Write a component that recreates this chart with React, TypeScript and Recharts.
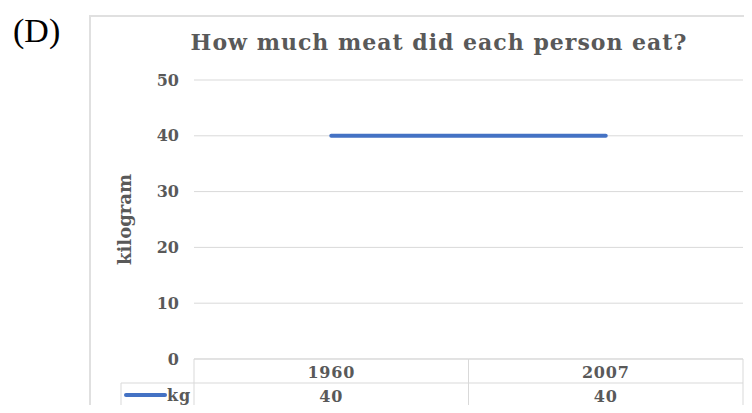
import { LineChart, Line, XAxis, YAxis, CartesianGrid, Label } from "recharts";

// chart data
const years = ["1960", "2007"];
const kg = [40, 40];
const yTicks = [0, 10, 20, 30, 40, 50];
const seriesName = "kg";

const data = years.map((year, i) => ({ year, kg: kg[i] }));

const W = 752;
const H = 413;
const PLOT_LEFT = 194;
const PLOT_RIGHT = 743;
const HALF = (PLOT_RIGHT - PLOT_LEFT) / years.length / 2;
const ROW = 24;
const LEGEND_W = 73;
const GRID = "#d9d9d9";
const TEXT = "#595959";
const BLUE = "#4472c4";
const SERIF = "'DejaVu Serif', serif";

// x axis tick drawn as a data-table column (year row + value row)
function TableTick(props: any) {
  const { x, y, index } = props;
  const top = y;
  const left = x - HALF;
  const right = x + HALF;
  const txt = {
    fill: TEXT,
    fontFamily: SERIF,
    fontWeight: 700,
    fontSize: 16,
    letterSpacing: 0.8,
  };
  return (
    <g>
      <line x1={left} x2={right} y1={top} y2={top} stroke={GRID} />
      <line x1={left} x2={right} y1={top + ROW} y2={top + ROW} stroke={GRID} />
      <line x1={left} x2={right} y1={top + 2 * ROW} y2={top + 2 * ROW} stroke={GRID} />
      <line x1={right} x2={right} y1={top} y2={top + 2 * ROW} stroke={GRID} />
      {index === 0 && (
        <g>
          <line x1={left} x2={left} y1={top} y2={top + 2 * ROW} stroke={GRID} />
          <line x1={left - LEGEND_W} x2={left} y1={top + ROW} y2={top + ROW} stroke={GRID} />
          <line x1={left - LEGEND_W} x2={left} y1={top + 2 * ROW} y2={top + 2 * ROW} stroke={GRID} />
          <line x1={left - LEGEND_W} x2={left - LEGEND_W} y1={top + ROW} y2={top + 2 * ROW} stroke={GRID} />
          <line
            x1={left - LEGEND_W + 5}
            x2={left - LEGEND_W + 44}
            y1={top + 1.5 * ROW}
            y2={top + 1.5 * ROW}
            stroke={BLUE}
            strokeWidth={4}
            strokeLinecap="round"
          />
          <text x={left - LEGEND_W + 46} y={top + 1.5 * ROW} dominantBaseline="central" {...txt}>
            {seriesName}
          </text>
        </g>
      )}
      <text x={x} y={top + ROW / 2 + 1} textAnchor="middle" dominantBaseline="central" {...txt}>
        {years[index]}
      </text>
      <text x={x} y={top + 1.5 * ROW + 1} textAnchor="middle" dominantBaseline="central" {...txt}>
        {kg[index]}
      </text>
    </g>
  );
}

function YLabel(props: any) {
  const { viewBox } = props;
  const cx = viewBox.x;
  const cy = viewBox.y + viewBox.height / 2;
  return (
    <text
      x={cx}
      y={cy}
      transform={`rotate(-90, ${cx}, ${cy})`}
      textAnchor="middle"
      dominantBaseline="central"
      fill={TEXT}
      fontFamily={SERIF}
      fontWeight={700}
      fontSize={18}
    >
      kilogram
    </text>
  );
}

export default function App() {
  return (
    <div
      style={{
        position: "relative",
        width: W,
        height: H,
        margin: -8,
        overflow: "hidden",
        background: "#fff",
      }}
    >
      <div
        style={{
          position: "absolute",
          left: 89,
          top: 15,
          width: 720,
          height: 460,
          border: "2px solid #e0e0e0",
        }}
      />
      <svg width={W} height={H} style={{ position: "absolute", left: 0, top: 0 }}>
        <text x={13} y={42} fontFamily="'Liberation Serif', serif" fontSize={34} fill="#000">
          (D)
        </text>
        <text
          x={439}
          y={50}
          textAnchor="middle"
          fontFamily={SERIF}
          fontWeight={700}
          fontSize={22}
          letterSpacing={1}
          fill={TEXT}
        >
          How much meat did each person eat?
        </text>
      </svg>
      <div style={{ position: "absolute", left: 0, top: 0 }}>
        <LineChart
          width={W}
          height={H}
          data={data}
          margin={{ top: 80, right: W - PLOT_RIGHT, bottom: 0, left: 124 }}
        >
          <CartesianGrid vertical={false} stroke={GRID} />
          <XAxis
            dataKey="year"
            padding={{ left: HALF, right: HALF }}
            axisLine={false}
            tickLine={false}
            tickSize={0}
            tickMargin={0}
            height={54}
            interval={0}
            tick={<TableTick />}
          />
          <YAxis
            width={PLOT_LEFT - 124}
            domain={[0, 50]}
            ticks={yTicks}
            axisLine={false}
            tickLine={false}
            tickSize={0}
            tickMargin={15}
            tick={{ fill: TEXT, fontFamily: SERIF, fontWeight: 700, fontSize: 16 }}
          >
            <Label content={<YLabel />} />
          </YAxis>
          <Line
            type="linear"
            dataKey="kg"
            stroke={BLUE}
            strokeWidth={4}
            strokeLinecap="round"
            dot={false}
            activeDot={false}
            isAnimationActive={false}
          />
        </LineChart>
      </div>
    </div>
  );
}
